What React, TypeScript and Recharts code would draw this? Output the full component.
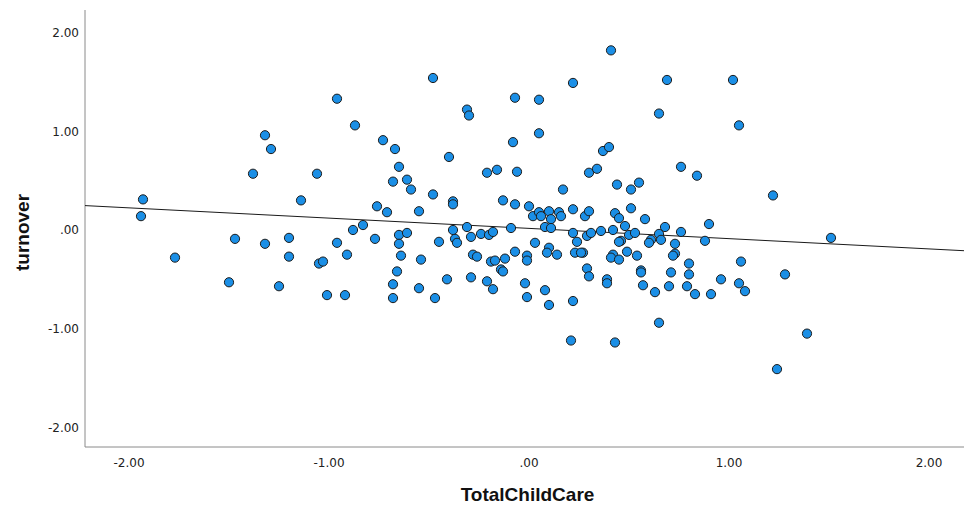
import React from 'react';
import { ScatterChart, Scatter, XAxis, YAxis } from 'recharts';

// TotalChildCare (x) values
const childCare: number[] = [
  -1.32, -1.29, -1.38, -0.96, -0.87, -0.48, -0.31, -0.30, -0.07, -0.73,
  -0.67, -0.40, -0.08, -0.65, -1.06, -0.21, -0.16, -0.06, 0.41, 0.22,
  0.69, 1.02, 0.05, 0.65, 0.05, 0.37, 0.40, 0.30, 0.34, 0.76,
  0.84, 1.05, 1.22, -1.93, -1.94, -1.47, -1.32, -1.20, -1.20, -1.77,
  -1.50, -1.25, -0.68, -0.61, -0.59, -1.14, -0.76, -0.71, -0.48, -0.38,
  -0.38, -0.55, -0.13, -0.07, -0.88, -0.83, -0.96, -0.77, -0.91, -1.05,
  -1.03, -0.65, -0.61, -0.65, -0.64, -0.54, -0.66, -0.45, -0.38, -0.37,
  -0.36, -0.31, -0.29, -0.24, -0.20, -0.18, -0.09, -0.07, -0.28, -0.26,
  -0.19, -0.17, -0.12, -0.14, -0.13, -0.68, -0.68, -1.01, -0.92, -0.55,
  -0.47, -0.41, -0.29, -0.21, -0.18, 0.17, 0.44, 0.51, 0.55, 0.00,
  0.02, 0.05, 0.06, 0.10, 0.11, 0.15, 0.16, 0.22, 0.28, 0.30,
  0.43, 0.45, 0.51, 0.58, 0.08, 0.11, 0.22, 0.29, 0.31, 0.36,
  0.42, 0.48, 0.50, 0.53, 0.68, 0.65, 0.66, 0.61, 0.60, 0.76,
  0.90, 0.88, 0.03, 0.24, 0.46, 0.45, 0.10, 0.09, 0.14, 0.23,
  0.27, 0.26, 0.42, 0.41, 0.49, 0.54, 0.45, 0.73, 0.73, 0.72,
  0.80, 1.06, -0.01, -0.01, 0.29, 0.56, 0.56, 0.71, 0.80, 0.30,
  0.39, 0.39, -0.02, 0.08, -0.01, 0.10, 0.22, 0.57, 0.63, 0.70,
  0.79, 0.83, 0.91, 0.96, 0.65, 0.21, 0.43, 1.51, 1.28, 1.05,
  1.08, 1.39, 1.24,
];

// turnover (y) values
const turnover: number[] = [
  0.96, 0.82, 0.57, 1.33, 1.06, 1.54, 1.22, 1.16, 1.34, 0.91,
  0.82, 0.74, 0.89, 0.64, 0.57, 0.58, 0.61, 0.59, 1.82, 1.49,
  1.52, 1.52, 1.32, 1.18, 0.98, 0.80, 0.84, 0.58, 0.62, 0.64,
  0.55, 1.06, 0.35, 0.31, 0.14, -0.09, -0.14, -0.08, -0.27, -0.28,
  -0.53, -0.57, 0.49, 0.51, 0.41, 0.30, 0.24, 0.18, 0.36, 0.29,
  0.26, 0.19, 0.30, 0.26, 0.00, 0.05, -0.13, -0.09, -0.25, -0.34,
  -0.32, -0.05, -0.03, -0.14, -0.26, -0.30, -0.42, -0.12, 0.00, -0.09,
  -0.13, 0.03, -0.07, -0.04, -0.05, -0.02, 0.02, -0.22, -0.25, -0.27,
  -0.32, -0.31, -0.29, -0.40, -0.42, -0.55, -0.69, -0.66, -0.66, -0.59,
  -0.69, -0.50, -0.48, -0.52, -0.60, 0.41, 0.46, 0.41, 0.48, 0.24,
  0.14, 0.18, 0.14, 0.19, 0.11, 0.18, 0.14, 0.21, 0.14, 0.19,
  0.17, 0.12, 0.22, 0.11, 0.03, 0.02, -0.03, -0.06, -0.03, -0.01,
  0.00, 0.04, -0.05, -0.03, 0.03, -0.04, -0.10, -0.10, -0.13, -0.02,
  0.06, -0.11, -0.13, -0.12, -0.11, -0.12, -0.18, -0.23, -0.25, -0.23,
  -0.23, -0.23, -0.25, -0.28, -0.22, -0.26, -0.30, -0.14, -0.24, -0.26,
  -0.34, -0.32, -0.26, -0.31, -0.39, -0.41, -0.43, -0.43, -0.45, -0.47,
  -0.50, -0.54, -0.54, -0.61, -0.68, -0.76, -0.72, -0.56, -0.63, -0.57,
  -0.57, -0.65, -0.65, -0.50, -0.94, -1.12, -1.14, -0.08, -0.45, -0.54,
  -0.62, -1.05, -1.41,
];

// fit line end points
const fitX: number[] = [-2.22, 2.175];
const fitY: number[] = [0.247, -0.21];

const xTicks: number[] = [-2, -1, 0, 1, 2];
const yTicks: number[] = [-2, -1, 0, 1, 2];

const points = childCare.map((x, i) => ({ x, y: turnover[i] }));
const fitLine = fitX.map((x, i) => ({ x, y: fitY[i] }));

const fmt = (v: number) => (v === 0 ? '.00' : v.toFixed(2));

const Dot = (props: any) => {
  const { cx, cy } = props;
  if (cx == null || cy == null) return <g />;
  return <circle cx={cx} cy={cy} r={4.6} fill="#1b8fe6" stroke="#1c1c1c" strokeWidth={1} />;
};

const tickStyle = { fontFamily: '"DejaVu Sans", sans-serif', fontSize: 12, fill: '#222' };
const titleFont = '"Liberation Sans", Arial, sans-serif';

export default function App() {
  return (
    <div style={{ position: 'absolute', left: 0, top: 0, width: 964, height: 508, background: '#fff' }}>
      <ScatterChart width={964} height={508} margin={{ top: 10, right: 0, bottom: 0, left: 0 }}>
        <XAxis
          type="number"
          dataKey="x"
          domain={[-2.22, 2.175]}
          ticks={xTicks}
          tickFormatter={fmt}
          allowDataOverflow
          height={61}
          tickLine={false}
          tickSize={6}
          tickMargin={5}
          axisLine={{ stroke: '#8a8a8a', strokeWidth: 1 }}
          tick={tickStyle}
          label={{
            content: (p: any) => {
              const vb = p.viewBox || { x: 85, y: 447, width: 879, height: 61 };
              return (
                <text
                  x={vb.x + vb.width / 2 + 3}
                  y={vb.y + vb.height - 7}
                  textAnchor="middle"
                  fontFamily={titleFont}
                  fontWeight="bold"
                  fontSize={19}
                  fill="#111"
                >
                  TotalChildCare
                </text>
              );
            },
          }}
        />
        <YAxis
          type="number"
          dataKey="y"
          domain={[-2.199, 2.229]}
          ticks={yTicks}
          tickFormatter={fmt}
          allowDataOverflow
          width={85}
          tickLine={false}
          tickSize={4}
          tickMargin={2}
          axisLine={{ stroke: '#8a8a8a', strokeWidth: 1 }}
          tick={tickStyle}
          label={{
            content: (p: any) => {
              const vb = p.viewBox || { x: 0, y: 10, width: 85, height: 437 };
              const cx = vb.x + 22;
              const cy = vb.y + vb.height / 2 + 4;
              return (
                <text
                  x={cx}
                  y={cy}
                  transform={`rotate(-90, ${cx}, ${cy})`}
                  textAnchor="middle"
                  dominantBaseline="central"
                  fontFamily={titleFont}
                  fontWeight="bold"
                  fontSize={19}
                  fill="#111"
                >
                  turnover
                </text>
              );
            },
          }}
        />
        <Scatter
          data={fitLine}
          line={{ stroke: '#1a1a1a', strokeWidth: 1 }}
          shape={() => <g />}
          isAnimationActive={false}
        />
        <Scatter data={points} shape={Dot} isAnimationActive={false} />
      </ScatterChart>
    </div>
  );
}
